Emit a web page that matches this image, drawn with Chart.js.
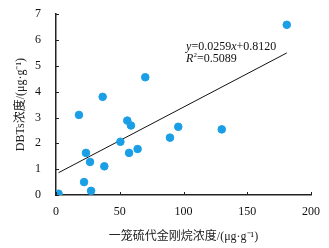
<!DOCTYPE html>
<html>
<head>
<meta charset="utf-8"/>
<title>DBTs vs 一笼硫代金刚烷</title>
<script src="https://cdn.jsdelivr.net/npm/chart.js"></script>
<style>
  html, body { margin: 0; padding: 0; background: #ffffff; }
  #wrap { width: 329px; height: 248px; }
</style>
</head>
<body>
<div id="wrap"><canvas id="c" width="329" height="248"></canvas></div>
<script>
  // values
  const adamantaneX = [2, 18, 22, 23.5, 26.7, 27.5, 36.6, 37.9, 50.5, 55.9, 57.3, 58.8, 64, 70, 89.4, 95.9, 130, 181];
  const dbtsY = [0.05, 3.1, 0.5, 1.63, 1.28, 0.16, 3.8, 1.11, 2.06, 2.88, 1.63, 2.69, 1.78, 4.56, 2.22, 2.64, 2.54, 6.59];
  const xTicks = [0, 50, 100, 150, 200];
  const yTicks = [0, 1, 2, 3, 4, 5, 6, 7];
  const fitSlope = 0.0259;
  const fitIntercept = 0.8120;
  const fitRange = [2, 181];

  const serif = '"Liberation Serif", "Times New Roman", serif';
  const cjk = '"Liberation Serif", "Noto Sans CJK SC", serif';

  const scatter = adamantaneX.map((x, i) => ({ x: x, y: dbtsY[i] }));
  const fitLine = fitRange.map(x => ({ x: x, y: fitSlope * x + fitIntercept }));

  // small ticks drawn inside the plot area + regression equation
  const extras = {
    id: 'extras',
    afterDraw(chart) {
      const ctx = chart.ctx;
      const xs = chart.scales.x, ys = chart.scales.y;
      const a = chart.chartArea;
      ctx.save();
      ctx.strokeStyle = '#222';
      ctx.lineWidth = 1;
      xTicks.forEach(v => {
        const px = Math.round(xs.getPixelForValue(v)) + 0.5;
        ctx.beginPath(); ctx.moveTo(px, a.bottom); ctx.lineTo(px, a.bottom - 3); ctx.stroke();
      });
      yTicks.forEach(v => {
        const py = Math.round(ys.getPixelForValue(v)) + 0.5;
        ctx.beginPath(); ctx.moveTo(a.left, py); ctx.lineTo(a.left + 3, py); ctx.stroke();
      });

      ctx.fillStyle = '#111';
      ctx.textBaseline = 'alphabetic';
      let tx = xs.getPixelForValue(102);
      let ty = ys.getPixelForValue(5.62);
      const parts1 = [['y', 'italic'], ['=0.0259', ''], ['x', 'italic'], ['+0.8120', '']];
      parts1.forEach(p => {
        ctx.font = (p[1] ? 'italic ' : '') + '12px ' + serif;
        ctx.fillText(p[0], tx, ty);
        tx += ctx.measureText(p[0]).width;
      });
      tx = xs.getPixelForValue(102);
      ty = ys.getPixelForValue(5.13);
      ctx.font = 'italic 12px ' + serif;
      ctx.fillText('R', tx, ty);
      tx += ctx.measureText('R').width;
      ctx.font = '7px ' + serif;
      ctx.fillText('2', tx, ty - 5);
      tx += ctx.measureText('2').width;
      ctx.font = '12px ' + serif;
      ctx.fillText('=0.5089', tx, ty);
      ctx.restore();
    }
  };

  new Chart(document.getElementById('c'), {
    type: 'scatter',
    data: {
      datasets: [
        {
          data: scatter,
          backgroundColor: '#1a9fe6',
          borderColor: '#1a9fe6',
          pointRadius: 3.8,
          pointHoverRadius: 3.8,
          order: 1
        },
        {
          type: 'line',
          data: fitLine,
          borderColor: '#111',
          borderWidth: 1,
          pointRadius: 0,
          fill: false,
          order: 2
        }
      ]
    },
    options: {
      responsive: false,
      animation: false,
      devicePixelRatio: 1,
      layout: { padding: { top: 10, right: 18, left: 0, bottom: 0 } },
      plugins: { legend: { display: false }, tooltip: { enabled: false } },
      scales: {
        x: {
          type: 'linear',
          min: 0, max: 200,
          afterBuildTicks: s => { s.ticks = xTicks.map(v => ({ value: v })); },
          afterFit: s => { s.height = 53; },
          border: { display: true, color: '#222', width: 1.5 },
          grid: { display: false },
          ticks: { color: '#111', font: { family: serif, size: 12 }, padding: 2 },
          title: {
            display: true,
            text: '一笼硫代金刚烷浓度/(μg·g⁻¹)',
            color: '#222',
            font: { family: cjk, size: 12 },
            padding: { top: 4 }
          }
        },
        y: {
          min: 0, max: 7,
          afterBuildTicks: s => { s.ticks = yTicks.map(v => ({ value: v })); },
          afterFit: s => { s.width = 56; },
          border: { display: true, color: '#222', width: 1.5 },
          grid: { display: false },
          ticks: { color: '#111', font: { family: serif, size: 12 }, padding: 7 },
          title: {
            display: true,
            text: 'DBTs浓度/(μg·g⁻¹)',
            color: '#222',
            font: { family: cjk, size: 12 },
            padding: { top: 14, bottom: 0 }
          }
        }
      }
    },
    plugins: [extras]
  });
</script>
</body>
</html>
